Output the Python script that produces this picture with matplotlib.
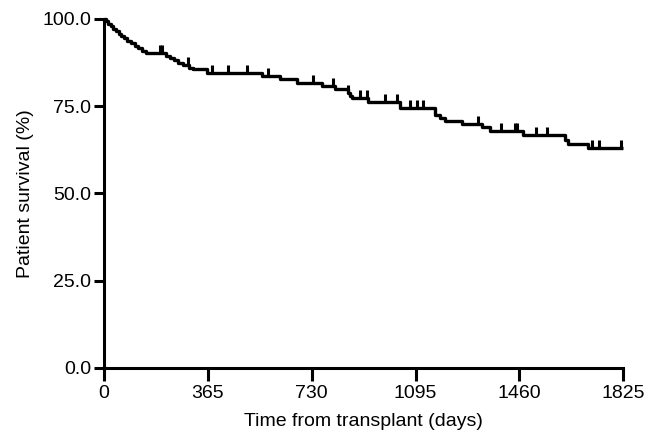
import numpy as np
import matplotlib.pyplot as plt
from matplotlib.ticker import FormatStrFormatter

plt.rcParams['font.family'] = ['Liberation Sans', 'DejaVu Sans']

# Kaplan-Meier steps: day of event, survival (%) just after it
event_days = [0, 8, 15, 24, 33, 42, 52, 62, 72, 82, 95, 108, 120, 135, 150,
              220, 232, 248, 262, 280, 300, 315, 362, 555, 620, 679, 767,
              812, 858, 866, 872, 928, 1041, 1164, 1181, 1199, 1259, 1329,
              1357, 1473, 1621, 1631, 1702]
survival = [100.0, 99.3, 98.6, 97.9, 97.2, 96.5, 95.8, 95.1, 94.4, 93.7, 93.0,
            92.3, 91.6, 90.9, 90.2, 89.5, 88.8, 88.1, 87.4, 86.7, 86.0, 85.6,
            84.6, 83.6, 82.8, 81.7, 80.8, 79.8, 78.7, 78.0, 77.3, 76.3, 74.5,
            72.5, 71.6, 70.8, 69.8, 68.9, 67.9, 66.8, 65.3, 64.1, 63.1]
end_day = 1825

# censored patients (days)
censor_days = [198, 206, 295, 380, 436, 503, 577, 735, 806, 858, 900, 925,
               988, 1030, 1076, 1100, 1122, 1316, 1396, 1445, 1452, 1520,
               1556, 1715, 1740, 1818]

x_ticks = [0, 365, 730, 1095, 1460, 1825]
y_ticks = [0, 25, 50, 75, 100]

fig = plt.figure(figsize=(6.61, 4.40), dpi=100)
ax = fig.add_axes([0.157, 0.164, 0.786, 0.793])

xs = event_days + [end_day]
ys = survival + [survival[-1]]
ax.step(xs, ys, where='post', color='black', lw=2.4, solid_capstyle='butt',
        clip_on=False)

# survival level at each censor time, tick drawn upward (Prism style)
idx = np.searchsorted(event_days, censor_days, side='right') - 1
cens_y = [survival[i] for i in idx]
ax.plot(censor_days, cens_y, linestyle='none', marker=2, color='black',
        markersize=6, markeredgewidth=2.2, clip_on=False)

ax.set_xlim(0, 1825)
ax.set_ylim(0, 100)
ax.set_xticks(x_ticks)
ax.set_yticks(y_ticks)
ax.yaxis.set_major_formatter(FormatStrFormatter('%.1f'))

for side in ['top', 'right']:
    ax.spines[side].set_visible(False)
for side in ['left', 'bottom']:
    ax.spines[side].set_linewidth(2.2)
ax.tick_params(width=2.2, labelsize=14, direction='out')
ax.tick_params(axis='x', length=9, pad=3)
ax.tick_params(axis='y', length=7, pad=2)

ax.set_xlabel('Time from transplant (days)', fontsize=14, labelpad=8)
ax.set_ylabel('Patient survival (%)', fontsize=14, labelpad=6)

fig.savefig('out.png', dpi=100)
